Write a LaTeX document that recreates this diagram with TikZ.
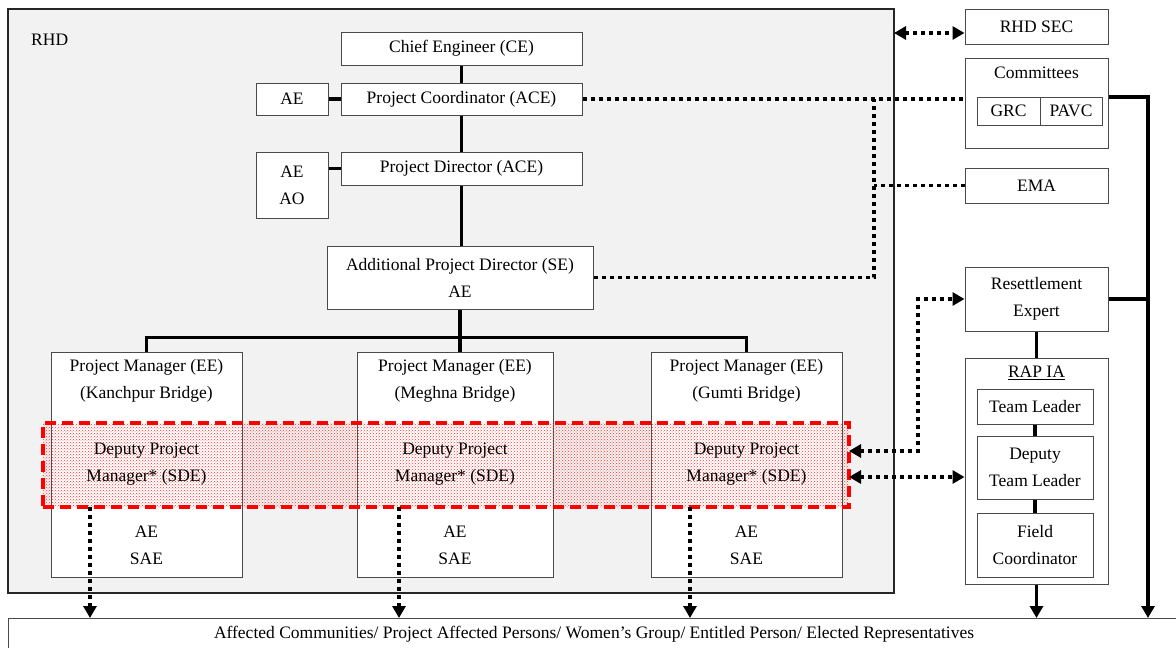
\documentclass[tikz,border=0pt]{standalone}
\usepackage{fontspec}
\setmainfont{Liberation Serif}
\usetikzlibrary{arrows.meta,patterns}

\definecolor{boxline}{HTML}{4A4A4A}
\definecolor{panel}{HTML}{F2F2F2}

\begin{document}
\begin{tikzpicture}[x=1pt,y=-1pt,
  font=\fontsize{17.5}{27}\selectfont,
  box/.style={draw=boxline, fill=white, line width=1pt, inner sep=0pt, align=center},
  txt/.style={inner sep=0pt, align=center},
  conn/.style={line width=3.2pt},
  dotline/.style={line width=3.6pt, dash pattern=on 4pt off 4pt},
  tipA/.tip={Triangle[length=12pt,width=13pt]},
  dotarrow/.style={dotline, -tipA},
  dotboth/.style={dotline, tipA-tipA},
  solidarrow/.style={conn, -tipA},
]
\useasboundingbox (0,0) rectangle (1176,648);

% ---- RHD panel ----
\node[draw=black!85, fill=panel, line width=2pt, minimum width=886pt, minimum height=584pt] (rhd) at (451,301) {};
\node[txt, anchor=west] (rhdlbl) at (31,40) {RHD};

\node[box, minimum width=241pt, minimum height=33pt] (ce) at (461.5,48.5) {Chief Engineer (CE)};
\node[box, minimum width=241pt, minimum height=32pt] (pc) at (461.5,99) {Project Coordinator (ACE)};
\node[box, minimum width=72pt, minimum height=32pt] (aeA) at (292,99) {AE};
\node[box, minimum width=241pt, minimum height=33pt] (pd) at (461.5,168.5) {Project Director (ACE)};
\node[box, minimum width=72pt, minimum height=66pt] (aeB) at (292,185) {AE\\AO};
\node[box, minimum width=266pt, minimum height=63pt] (apd) at (460,277.5) {Additional Project Director (SE)\\AE};

% vertical chain of command
\draw[conn] (ce.south) -- (pc.north);
\draw[conn] (pc.south) -- (pd.north);
\draw[conn] (pd.south) -- (pd.south |- apd.north);
\draw[conn] (aeA.east) -- (pc.west);
\draw[conn] (pd.west) -- (pd.west -| aeB.east);

% project managers
\node[box, minimum width=191pt, minimum height=225pt] (pmA) at (146.5,464.5) {};
\node[box, minimum width=196pt, minimum height=225pt] (pmB) at (455,464.5) {};
\node[box, minimum width=191pt, minimum height=225pt] (pmC) at (746.5,464.5) {};

\draw[conn] (apd.south) -- (apd.south |- pmB.north);
\draw[conn] (pmA.north) -- ++(0,-14) -| (pmC.north);

% deputy project manager band
\node[draw=red, line width=3.4pt, dash pattern=on 11pt off 6pt,
      pattern=crosshatch dots, pattern color=red!80,
      minimum width=806pt, minimum height=84pt] (dpm) at (446,465) {};

\foreach \n/\x/\br in {A/146.5/Kanchpur, B/455/Meghna, C/746.5/Gumti}{
  \node[txt] (pmt\n) at (\x,381) {Project Manager (EE)\\(\br\ Bridge)};
  \node[txt] (dpt\n) at (\x,464) {Deputy Project\\Manager* (SDE)};
  \node[txt] (sae\n) at (\x,545.5) {AE\\SAE};
}

% ---- right-hand column ----
\node[box, minimum width=143pt, minimum height=35pt] (sec) at (1036.5,26.5) {RHD SEC};
\node[box, minimum width=143pt, minimum height=90pt] (com) at (1036.5,103) {};
\node[txt] (comt) at (1036.5,73) {Committees};
\node[box, minimum width=63pt, minimum height=28pt] (grc) at (1008.5,111) {GRC};
\node[box, minimum width=62pt, minimum height=28pt] (pavc) at (1071,111) {PAVC};
\node[box, minimum width=143pt, minimum height=35pt] (ema) at (1036.5,185.5) {EMA};
\node[box, minimum width=143pt, minimum height=64pt] (res) at (1036.5,299) {Resettlement\\Expert};

\node[box, minimum width=143pt, minimum height=226pt] (rap) at (1036.5,471) {};
\node[txt] (rapt) at (1036.5,373) {\underline{RAP IA}};
\node[box, minimum width=116pt, minimum height=35pt] (tl) at (1035,406.5) {Team Leader};
\node[box, minimum width=116pt, minimum height=63pt] (dtl) at (1035,467.5) {Deputy\\Team Leader};
\node[box, minimum width=116pt, minimum height=64pt] (fc) at (1035,545) {Field\\Coordinator};

\draw[conn] (res.south) -- (res.south |- rap.north);
\draw[conn] (tl.south) -- (dtl.north);
\draw[conn] (dtl.south) -- (fc.north);

% ---- beneficiaries ----
\node[box, anchor=north west, minimum width=1180pt, minimum height=42pt] (bot) at (8,618) {};
\node[txt] (bott) at (594,634) {Affected Communities/ Project Affected Persons/ Women's Group/ Entitled Person/ Elected Representatives};

% ---- connectors ----
\coordinate (secL) at (894,33);
\draw[dotboth] (secL) -- (secL -| sec.west);

\coordinate (jn) at (874,99);
\draw[dotline] (pc.east) -- (pc.east -| com.west);
\draw[dotline] (apd.east) -| (jn);
\draw[dotline] (ema.west) -- (ema.west -| jn);

\coordinate (dA) at (849,451);
\coordinate (dB) at (849,477);
\coordinate (rv) at (918,299);
\draw[dotboth] (dA) -| (rv) -- (res.west);
\draw[dotboth] (dB) -- (dB -| rap.west);

\coordinate (dropA) at (90,507);
\coordinate (dropB) at (399,507);
\coordinate (dropC) at (690,507);
\draw[dotarrow] (dropA) -- (dropA |- bot.north);
\draw[dotarrow] (dropB) -- (dropB |- bot.north);
\draw[dotarrow] (dropC) -- (dropC |- bot.north);

\coordinate (rbus) at (1148,97);
\draw[solidarrow] (com.east |- rbus) -- (rbus) -- (rbus |- bot.north);
\draw[conn] (res.east) -- (res.east -| rbus);
\draw[solidarrow] (rap.south) -- (rap.south |- bot.north);
\end{tikzpicture}
\end{document}
